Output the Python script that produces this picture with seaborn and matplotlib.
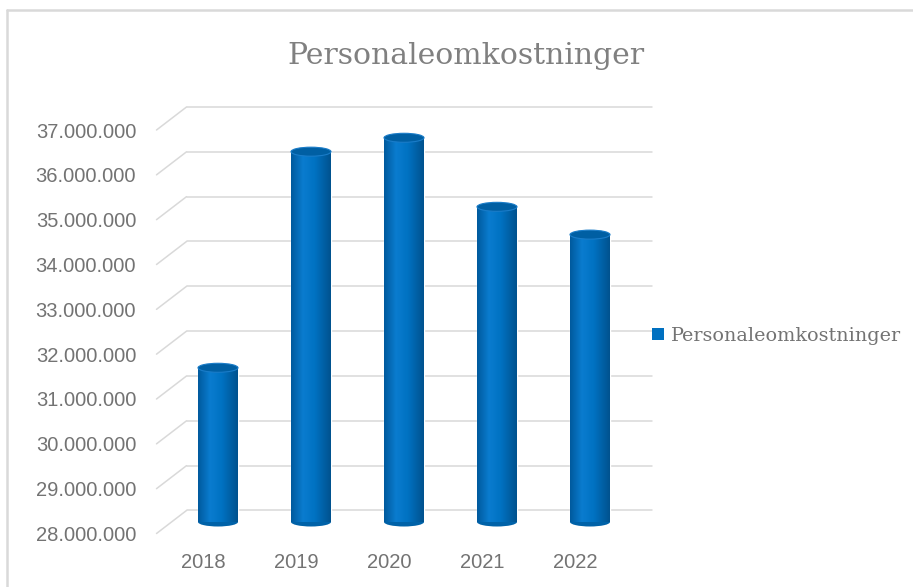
import matplotlib
matplotlib.use("Agg")
import matplotlib.pyplot as plt
import seaborn as sns
import numpy as np
from matplotlib.patches import Ellipse, Patch
from matplotlib.colors import LinearSegmentedColormap
from matplotlib.lines import Line2D
from matplotlib.transforms import ScaledTranslation

# data
years = ["2018", "2019", "2020", "2021", "2022"]
values = [31440000, 36260000, 36570000, 35030000, 34410000]
yticks = [28000000, 29000000, 30000000, 31000000, 32000000,
          33000000, 34000000, 35000000, 36000000, 37000000]
title = "Personaleomkostninger"
series_name = "Personaleomkostninger"

W, H = 913, 587
sns.set_style("white")
fig = plt.figure(figsize=(W / 100, H / 100), dpi=100)

# axes = middle depth plane of the fake 3d chart
ax = fig.add_axes([171.5 / W, (H - 522) / H, 465 / W, (522 - 118.5) / H])
ax.set_facecolor("none")

sns.barplot(x=years, y=values, color="#0070C0", width=0.43, ax=ax, saturation=1)
bars = list(ax.patches)
for p in bars:
    p.set_zorder(3)
ymin, ymax = 28000000, 37000000

# depth offsets (front / back plane) in data units
dx = 15 / 93
dy = 11.5 / 44.8 * 1e6
grid_col = "#d9d9d9"
for v in yticks:
    ax.plot([-0.5 + dx, 4.5 + dx], [v + dy, v + dy], color=grid_col, lw=1.1,
            clip_on=False, zorder=0.5)
    ax.plot([-0.5 - dx, -0.5 + dx], [v - dy, v + dy], color=grid_col, lw=1.1,
            clip_on=False, zorder=0.5)

# cylinder shading
cmap = LinearSegmentedColormap.from_list(
    "cyl", [(0, "#005a9e"), (0.3, "#0a7ccf"), (0.6, "#0072c2"), (1, "#00528f")])
grad = np.linspace(0, 1, 64).reshape(1, -1)
eh = 9 / 44.8 * 1e6
for p in bars:
    x0, w, h = p.get_x(), p.get_width(), p.get_height()
    cx = x0 + w / 2
    ax.add_patch(Ellipse((cx, ymin), w, eh, facecolor="#0062a8",
                         edgecolor="none", clip_on=False, zorder=2.8))
    ax.imshow(grad, extent=(x0, x0 + w, ymin, h), cmap=cmap,
              aspect="auto", zorder=3.5, origin="lower", interpolation="bilinear")
    ax.add_patch(Ellipse((cx, h), w, eh, facecolor="#005fa3",
                         edgecolor="#1a7cc8", lw=0.8, zorder=4))

for s in ax.spines.values():
    s.set_visible(False)
ax.set_xlabel("")
ax.set_ylabel("")

# tick labels sit on the front plane
tick_font = dict(family="Liberation Sans", size=14.5)
ax.set_xlim(-0.5, 4.5)
ax.set_ylim(ymin, ymax)
ax.set_yticks(yticks)
ax.set_yticklabels([f"{v:,.0f}".replace(",", ".") for v in yticks],
                   color="#737373", **tick_font)
ax.set_xticks([i - dx for i in range(len(years))])
ax.set_xticklabels(years, color="#737373", **tick_font)
ax.tick_params(axis="y", length=0, pad=25.5)
ax.tick_params(axis="x", length=0, pad=22)
ax.set_xlim(-0.5, 4.5)
ax.set_ylim(ymin, ymax)
shift = ScaledTranslation(0, -11.5 / 100, fig.dpi_scale_trans)
for t in ax.yaxis.get_major_ticks():
    t.label1.set_transform(t.label1.get_transform() + shift)

fig.text(466 / W, 1 - 56 / H, title, ha="center", va="center",
         family="DejaVu Serif", size=21.5, color="#808080")

fig.legend(handles=[Patch(facecolor="#0070C0", edgecolor="none", label=series_name)],
           loc="center left", bbox_to_anchor=(635 / W, 1 - 336 / H), frameon=False,
           handlelength=0.6, handleheight=0.6, handletextpad=0.35,
           prop=dict(family="DejaVu Serif", size=13.8), labelcolor="#737373")

# outer chart frame (left and top edges visible)
fig.add_artist(Line2D([7 / W, 7 / W], [0, 1 - 10 / H], color="#d9d9d9", lw=1.8,
                      transform=fig.transFigure))
fig.add_artist(Line2D([7 / W, 1], [1 - 10 / H, 1 - 10 / H], color="#d9d9d9", lw=1.8,
                      transform=fig.transFigure))

fig.savefig("out.png", dpi=100)
